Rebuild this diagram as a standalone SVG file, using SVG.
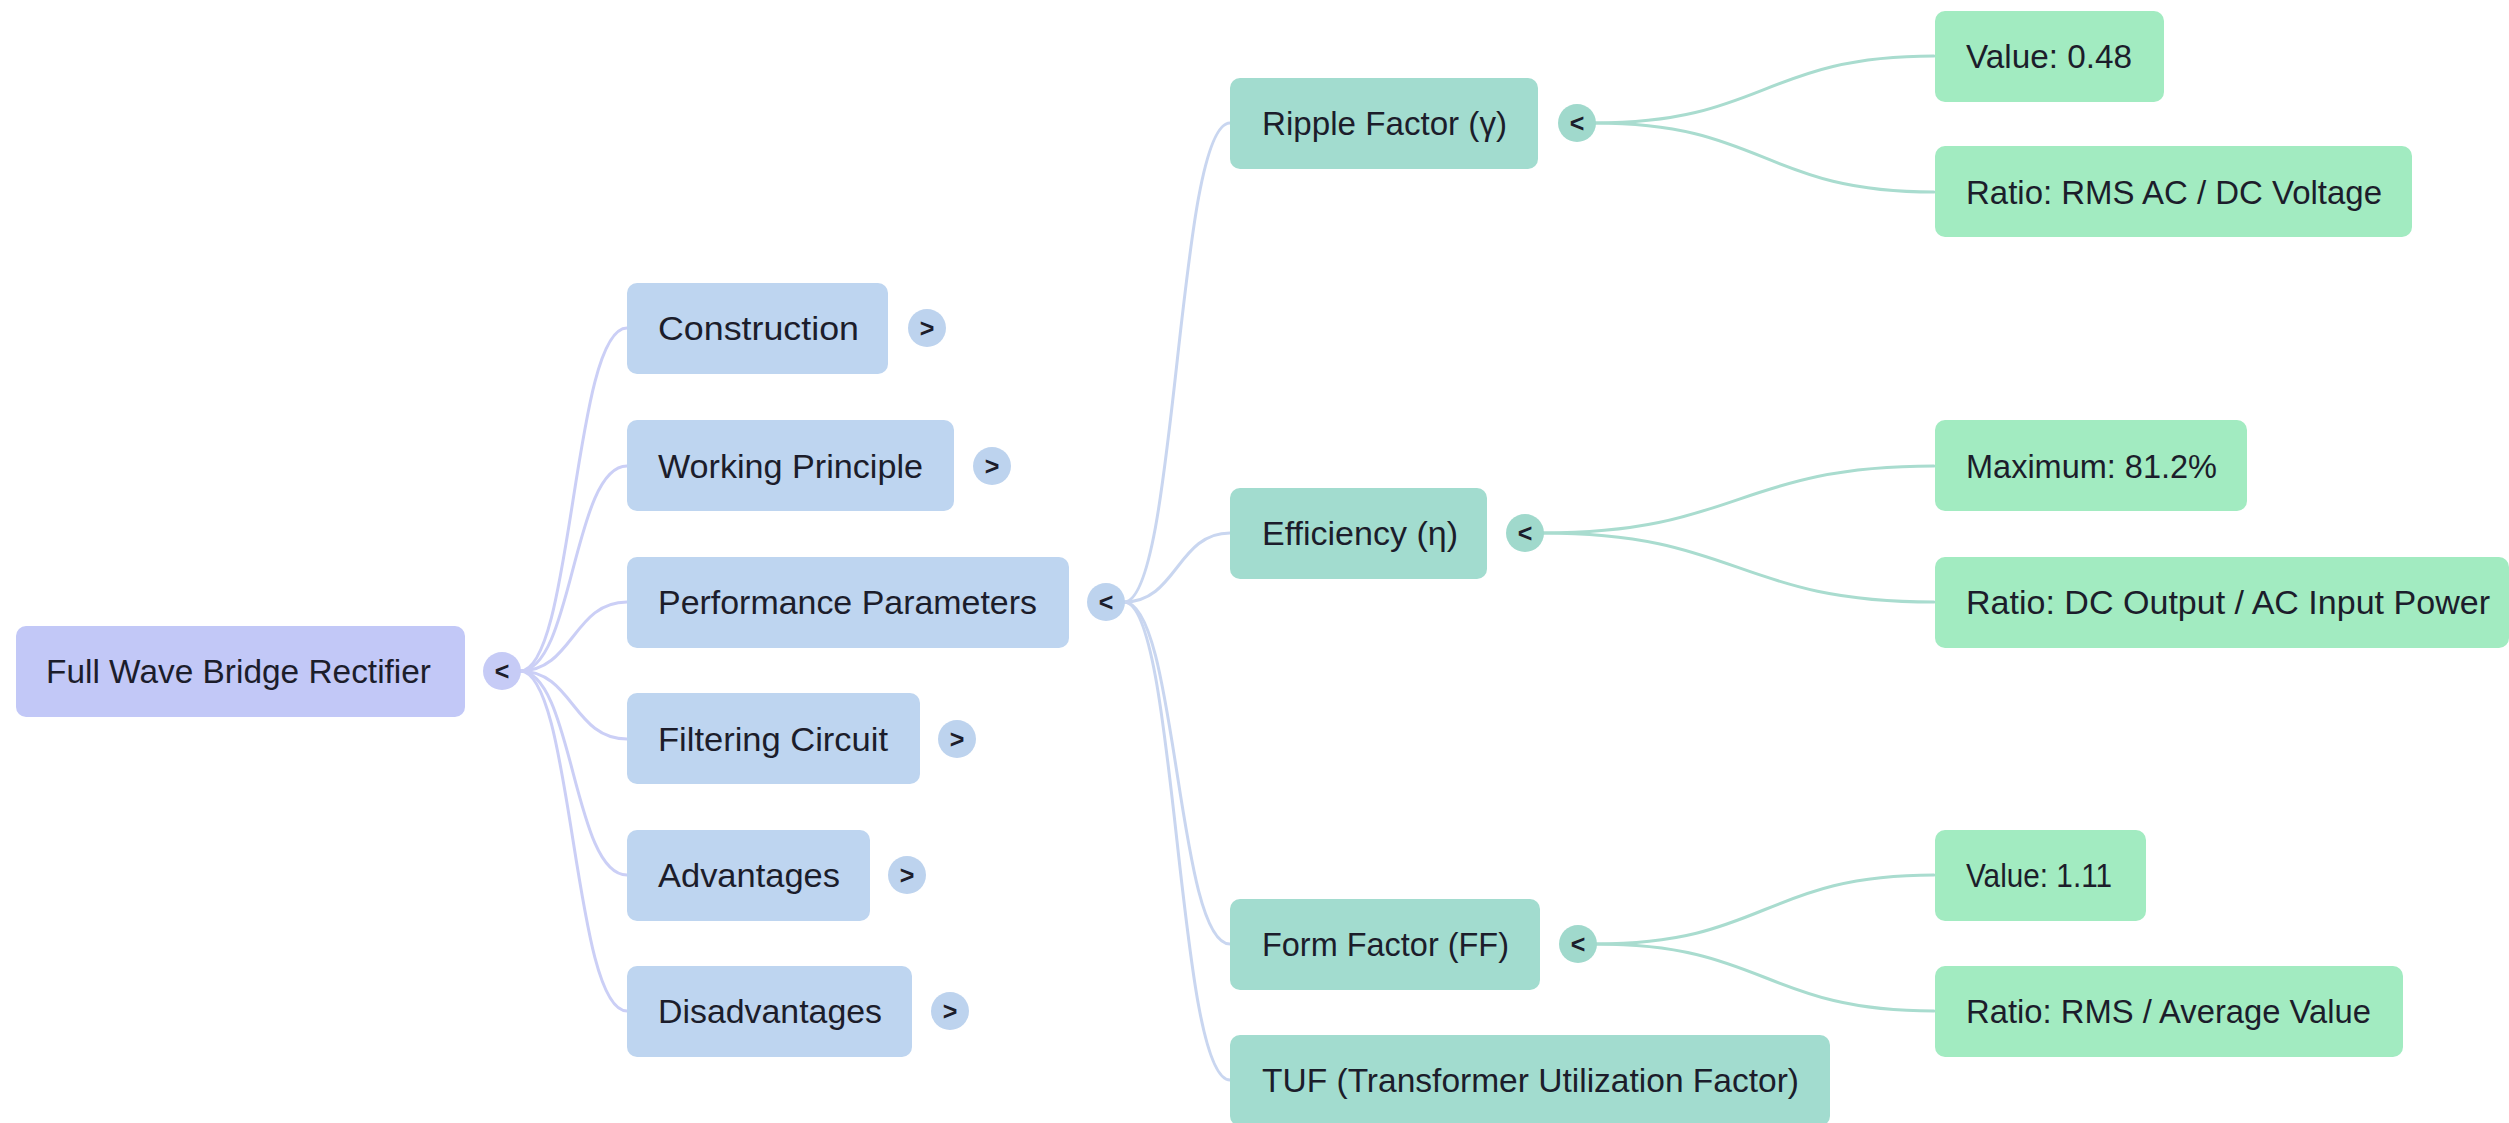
<svg xmlns="http://www.w3.org/2000/svg" width="2509" height="1123" viewBox="0 0 2509 1123">
<style>
text{font-family:"Liberation Sans",Arial,sans-serif;font-size:34px;fill:#1c1d2b;dominant-baseline:central}
.tg{font-size:25px;text-anchor:middle;font-weight:bold}
.r0{fill:#c2c8f7}.r1{fill:#bed5f0}.r2{fill:#a2dccf}.r3{fill:#a2ebc1}
.c0{fill:#c6cbf6}.c1{fill:#bdd3ee}.c2{fill:#a0d9cc}
.e{fill:none;stroke-width:3;stroke-linecap:round}
.e0{stroke:#cbcff6}.e1{stroke:#c9d6f0}.e2{stroke:#a9dccf}
</style>
<rect width="2509" height="1123" fill="#ffffff"/>
<g id="connectors">
<path class="e e0" d="M520,671 C573,671 573,328 627,328"/>
<path class="e e0" d="M520,671 C573,671 573,466 627,466"/>
<path class="e e0" d="M520,671 C573,671 573,602 627,602"/>
<path class="e e0" d="M520,671 C573,671 573,739 627,739"/>
<path class="e e0" d="M520,671 C573,671 573,875 627,875"/>
<path class="e e0" d="M520,671 C573,671 573,1011 627,1011"/>
<path class="e e1" d="M1124,602 C1177,602 1177,123 1230,123"/>
<path class="e e1" d="M1124,602 C1177,602 1177,533 1230,533"/>
<path class="e e1" d="M1124,602 C1177,602 1177,944 1230,944"/>
<path class="e e1" d="M1124,602 C1177,602 1177,1080 1230,1080"/>
<path class="e e2" d="M1595,123 C1764,123 1764,56 1934,56"/>
<path class="e e2" d="M1595,123 C1764,123 1764,192 1934,192"/>
<path class="e e2" d="M1543,533 C1738,533 1738,466 1934,466"/>
<path class="e e2" d="M1543,533 C1738,533 1738,602 1934,602"/>
<path class="e e2" d="M1596,944 C1765,944 1765,875 1934,875"/>
<path class="e e2" d="M1596,944 C1765,944 1765,1011 1934,1011"/>
</g>
<g id="root"><rect class="r0" x="16" y="626" width="449" height="91" rx="10"/><text x="46" y="671" textLength="385" lengthAdjust="spacingAndGlyphs">Full Wave Bridge Rectifier</text><circle class="c0" cx="502" cy="671" r="19"/><text class="tg" x="502" y="671">&lt;</text></g>
<g id="construction"><rect class="r1" x="627" y="283" width="261" height="91" rx="10"/><text x="658" y="328" textLength="201" lengthAdjust="spacingAndGlyphs">Construction</text><circle class="c1" cx="927" cy="328" r="19"/><text class="tg" x="927" y="328">&gt;</text></g>
<g id="working"><rect class="r1" x="627" y="420" width="327" height="91" rx="10"/><text x="658" y="466" textLength="265" lengthAdjust="spacingAndGlyphs">Working Principle</text><circle class="c1" cx="992" cy="466" r="19"/><text class="tg" x="992" y="466">&gt;</text></g>
<g id="performance"><rect class="r1" x="627" y="557" width="442" height="91" rx="10"/><text x="658" y="602" textLength="379" lengthAdjust="spacingAndGlyphs">Performance Parameters</text><circle class="c1" cx="1106" cy="602" r="19"/><text class="tg" x="1106" y="602">&lt;</text></g>
<g id="filtering"><rect class="r1" x="627" y="693" width="293" height="91" rx="10"/><text x="658" y="739" textLength="230" lengthAdjust="spacingAndGlyphs">Filtering Circuit</text><circle class="c1" cx="957" cy="739" r="19"/><text class="tg" x="957" y="739">&gt;</text></g>
<g id="advantages"><rect class="r1" x="627" y="830" width="243" height="91" rx="10"/><text x="658" y="875" textLength="182" lengthAdjust="spacingAndGlyphs">Advantages</text><circle class="c1" cx="907" cy="875" r="19"/><text class="tg" x="907" y="875">&gt;</text></g>
<g id="disadvantages"><rect class="r1" x="627" y="966" width="285" height="91" rx="10"/><text x="658" y="1011" textLength="224" lengthAdjust="spacingAndGlyphs">Disadvantages</text><circle class="c1" cx="950" cy="1011" r="19"/><text class="tg" x="950" y="1011">&gt;</text></g>
<g id="ripple"><rect class="r2" x="1230" y="78" width="308" height="91" rx="10"/><text x="1262" y="123" textLength="245" lengthAdjust="spacingAndGlyphs">Ripple Factor (γ)</text><circle class="c2" cx="1577" cy="123" r="19"/><text class="tg" x="1577" y="123">&lt;</text></g>
<g id="efficiency"><rect class="r2" x="1230" y="488" width="257" height="91" rx="10"/><text x="1262" y="533" textLength="196" lengthAdjust="spacingAndGlyphs">Efficiency (η)</text><circle class="c2" cx="1525" cy="533" r="19"/><text class="tg" x="1525" y="533">&lt;</text></g>
<g id="formfactor"><rect class="r2" x="1230" y="899" width="310" height="91" rx="10"/><text x="1262" y="944" textLength="247" lengthAdjust="spacingAndGlyphs">Form Factor (FF)</text><circle class="c2" cx="1578" cy="944" r="19"/><text class="tg" x="1578" y="944">&lt;</text></g>
<g id="tuf"><rect class="r2" x="1230" y="1035" width="600" height="91" rx="10"/><text x="1262" y="1080" textLength="537" lengthAdjust="spacingAndGlyphs">TUF (Transformer Utilization Factor)</text></g>
<g id="value048"><rect class="r3" x="1935" y="11" width="229" height="91" rx="10"/><text x="1966" y="56" textLength="166" lengthAdjust="spacingAndGlyphs">Value: 0.48</text></g>
<g id="ratio1"><rect class="r3" x="1935" y="146" width="477" height="91" rx="10"/><text x="1966" y="192" textLength="416" lengthAdjust="spacingAndGlyphs">Ratio: RMS AC / DC Voltage</text></g>
<g id="maximum"><rect class="r3" x="1935" y="420" width="312" height="91" rx="10"/><text x="1966" y="466" textLength="251" lengthAdjust="spacingAndGlyphs">Maximum: 81.2%</text></g>
<g id="ratio2"><rect class="r3" x="1935" y="557" width="574" height="91" rx="10"/><text x="1966" y="602" textLength="524" lengthAdjust="spacingAndGlyphs">Ratio: DC Output / AC Input Power</text></g>
<g id="value111"><rect class="r3" x="1935" y="830" width="211" height="91" rx="10"/><text x="1966" y="875" textLength="146" lengthAdjust="spacingAndGlyphs">Value: 1.11</text></g>
<g id="ratio3"><rect class="r3" x="1935" y="966" width="468" height="91" rx="10"/><text x="1966" y="1011" textLength="405" lengthAdjust="spacingAndGlyphs">Ratio: RMS / Average Value</text></g>
</svg>
